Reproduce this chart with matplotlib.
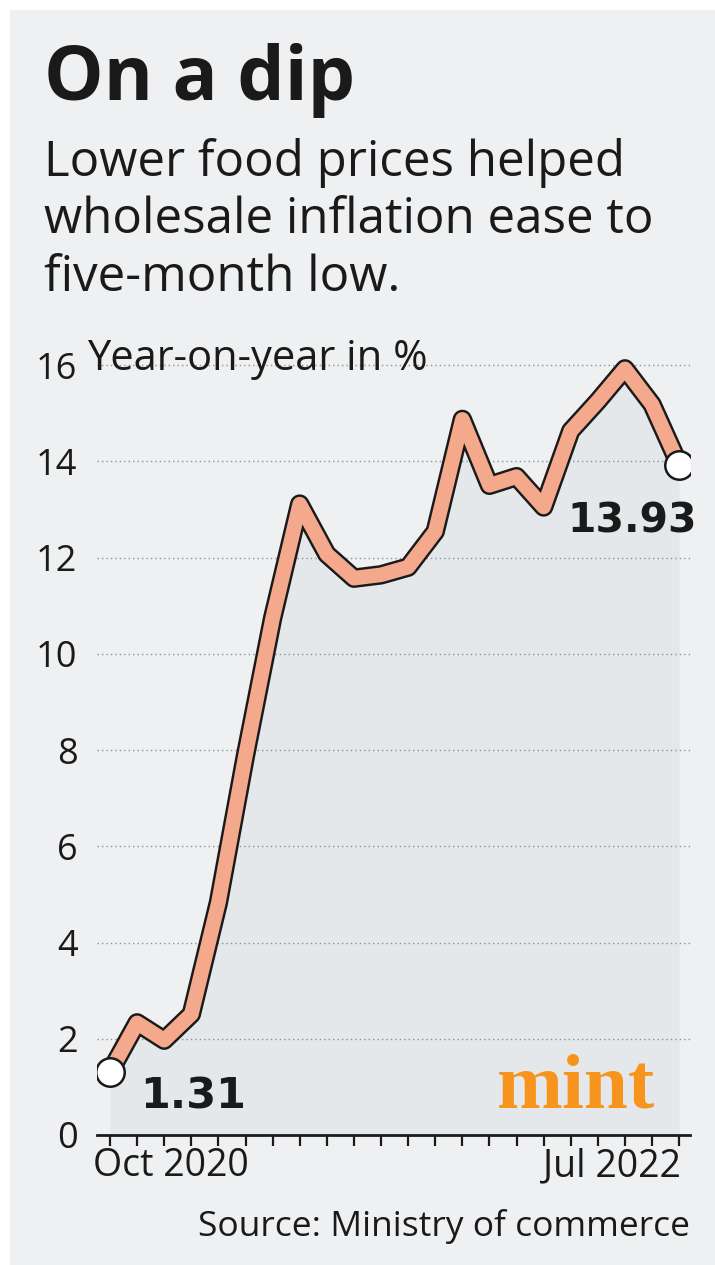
import matplotlib
matplotlib.use("Agg")
import matplotlib.pyplot as plt
import matplotlib.patheffects as pe
from matplotlib.patches import Rectangle
from matplotlib.transforms import ScaledTranslation

months = ["Oct 2020", "Nov 2020", "Dec 2020", "Jan 2021", "Feb 2021", "Mar 2021",
          "Apr 2021", "May 2021", "Jun 2021", "Jul 2021", "Aug 2021", "Sep 2021",
          "Oct 2021", "Nov 2021", "Dec 2021", "Jan 2022", "Feb 2022", "Mar 2022",
          "Apr 2022", "May 2022", "Jun 2022", "Jul 2022"]
wpi = [1.31, 2.33, 1.97, 2.51, 4.83, 7.89, 10.74, 13.11, 12.07, 11.57, 11.64, 11.80,
       12.54, 14.87, 13.50, 13.68, 13.05, 14.63, 15.25, 15.92, 15.18, 13.93]
yticks = [0, 2, 4, 6, 8, 10, 12, 14, 16]

W, H = 715, 1265
BG = "#eef0f1"
FONT = "Open Sans"
INK = "#1a1a1a"

fig = plt.figure(figsize=(W / 100, H / 100), dpi=100, facecolor="white")
fig.patches.append(Rectangle((10 / W, 0), 1, 1 - 10 / H, transform=fig.transFigure,
                             facecolor=BG, edgecolor="none", zorder=-10))

def fx(px):
    return px / W

def fy(py):
    return 1 - py / H

# Titles
fig.text(fx(44), fy(100), "On a dip", fontsize=54, fontweight="bold", family=FONT,
         color=INK, va="baseline", ha="left")
for txt, base in [("Lower food prices helped", 176),
                  ("wholesale inflation ease to", 233),
                  ("five-month low.", 291)]:
    fig.text(fx(44), fy(base), txt, fontsize=35.5, family=FONT, color=INK,
             va="baseline", ha="left")

fig.text(fx(87), fy(370), "Year-on-year in %", fontsize=30, family=FONT, color=INK,
         va="baseline", ha="left")

# Axes geometry
x0, x1 = -0.48, 21.4
ytop = 16.6
ax = fig.add_axes([fx(97), (H - 1135) / H, (690 - 97) / W, ytop * 48.125 / H])
ax.set_facecolor("none")
n = len(wpi)
xs = list(range(n))

ax.fill_between(xs, 0, wpi, color="#e5e8ea", zorder=0.5, linewidth=0)
for y in yticks[1:]:
    ax.axhline(y, color="#909090", lw=1.0, ls=(0, (1, 2.2)), zorder=1)

ax.plot(xs, wpi, color="#f4a98d", lw=10.5, solid_joinstyle="round",
        solid_capstyle="round", zorder=3,
        path_effects=[pe.Stroke(linewidth=14, foreground=INK), pe.Normal()])
ax.plot([xs[0], xs[-1]], [wpi[0], wpi[-1]], ls="none", marker="o", ms=20.5,
        mfc="white", mec=INK, mew=1.8, zorder=4)

ax.set_xlim(x0, x1)
ax.set_ylim(0, ytop)
for s in ["top", "right", "left"]:
    ax.spines[s].set_visible(False)
ax.spines["bottom"].set_linewidth(2)
ax.spines["bottom"].set_color(INK)

ax.set_yticks(yticks)
ax.set_yticklabels([str(v) for v in yticks], family=FONT, fontsize=26, color=INK)
ax.tick_params(axis="y", length=0, pad=14)

ax.set_xticks(xs)
labels = [""] * n
labels[0] = months[0]
labels[-1] = months[-1]
ax.set_xticklabels(labels, family=FONT, fontsize=27, color=INK)
ax.tick_params(axis="x", length=8, width=1.6, color=INK, pad=1)
tl = ax.get_xticklabels()
tl[0].set_ha("left")
tl[0].set_transform(tl[0].get_transform() + ScaledTranslation(-17 / 100, 0, fig.dpi_scale_trans))
tl[-1].set_ha("right")
tl[-1].set_transform(tl[-1].get_transform() + ScaledTranslation(2 / 100, 0, fig.dpi_scale_trans))

ax.annotate(f"{wpi[0]:.2f}", (xs[0], wpi[0]), xytext=(30, -37), textcoords="offset pixels",
            family="DejaVu Sans", fontweight="bold", fontsize=31, color=INK,
            ha="left", va="baseline", zorder=5)
ax.annotate(f"{wpi[-1]:.2f}", (xs[-1], wpi[-1]), xytext=(18, -68), textcoords="offset pixels",
            family="DejaVu Sans", fontweight="bold", fontsize=29.5, color=INK,
            ha="right", va="baseline", zorder=5)

fig.text(fx(497), fy(1107), "mint", family="Liberation Serif", fontweight="bold",
         fontsize=57, color="#f7941d", ha="left", va="baseline")

fig.text(fx(690), fy(1236), "Source: Ministry of commerce", family=FONT, fontsize=25.5,
         color=INK, ha="right", va="baseline")

fig.savefig("out.png", dpi=100, facecolor=fig.get_facecolor())
